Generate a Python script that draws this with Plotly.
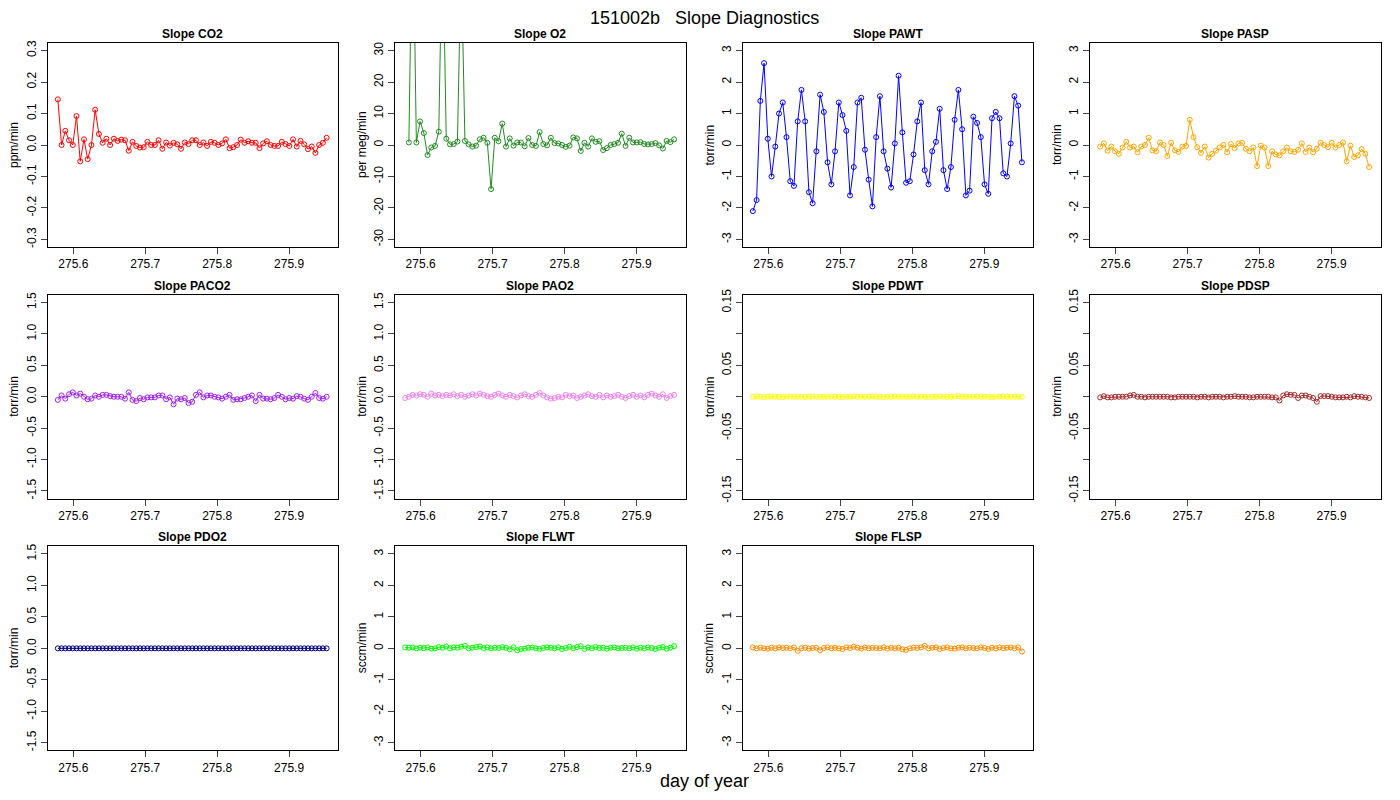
import plotly.graph_objects as go

t0 = 275.5785
dt = 0.00519

co2 = [0.145, 0.0, 0.045, 0.015, 0.0, 0.092, -0.052, 0.018, -0.045, 0.0,
       0.112, 0.035, 0.007, 0.02, 0.0, 0.02, 0.013, 0.017, 0.015, -0.018,
       0.01, -0.003, -0.008, -0.007, 0.01, 0.0, 0.0, 0.015, -0.012, 0.008,
       -0.002, 0.007, 0.002, -0.012, 0.008, 0.003, 0.015, 0.015, 0.0, 0.008,
       -0.003, 0.01, 0.007, 0.0, 0.005, 0.018, -0.01, -0.007, 0.0, 0.017,
       0.007, 0.012, 0.007, 0.007, -0.01, 0.005, 0.012, 0.0, -0.003, -0.003,
       0.01, 0.003, -0.003, 0.018, -0.005, 0.013, 0.002, -0.013, -0.005, -0.025,
       0.0, 0.007, 0.023]
o2 = [None, 0.8, 80, 0.8, 7.5, 3.8, -3.2, -0.8, -0.3, 4.2,
      70, 2.0, 0.2, 0.3, 1.1, 60, 1.3, 0.2, -0.5, -0.2,
      1.8, 2.3, 0.7, -14, 2.3, 1.2, 6.8, -0.5, 2.1, -0.2,
      0.8, 0.8, -0.4, 2.2, 0.0, -0.3, 4.1, 0.3, -0.1, 2.3,
      0.6, 0.5, 0.0, -0.6, -0.2, 2.4, 2.1, -1.9, 0.7, -0.5,
      2.1, 1.0, 1.2, -1.6, -1.0, 0.0, 0.3, 0.7, 3.6, -0.3,
      2.3, 0.8, 0.8, 0.9, 0.3, 0.2, 0.3, 0.6, -0.1, -1.1,
      1.3, 0.9, 1.8]
pawt = [-2.1, -1.75, 1.4, 2.6, 0.2, -1.0, -0.05, 1.0, 1.35, 0.25,
        -1.15, -1.3, 0.75, 1.75, 0.75, -1.5, -1.85, -0.2, 1.6, 1.05,
        -0.55, -1.25, -0.2, 1.35, 0.95, 0.45, -1.6, -0.7, 1.35, 1.5,
        -0.15, -1.1, -1.95, 0.25, 1.55, -0.2, -0.75, -1.35, 0.05, 2.2,
        0.4, -1.2, -1.15, -0.3, 0.75, 1.35, -0.8, -1.25, -0.2, 0.1,
        1.15, -0.8, -1.4, -0.7, 0.8, 1.75, 0.5, -1.6, -1.45, 0.9,
        0.7, 0.25, -1.25, -1.55, 0.85, 1.05, 0.85, -0.9, -1.0, 0.05,
        1.55, 1.25, -0.55]
pasp = [-0.05, 0.05, -0.18, -0.05, -0.2, -0.28, -0.08, 0.1, -0.08, -0.05,
        -0.23, -0.05, 0.0, 0.23, -0.17, -0.2, 0.08, 0.0, -0.35, 0.07,
        -0.17, -0.22, -0.05, -0.03, 0.8, 0.25, -0.07, -0.25, -0.05, -0.4,
        -0.28, -0.18, -0.08, 0.0, -0.23, 0.03, -0.1, 0.05, 0.07, -0.12,
        -0.2, -0.08, -0.67, -0.02, -0.08, -0.67, -0.2, -0.3, -0.33, -0.2,
        -0.08, -0.2, -0.22, -0.15, 0.05, -0.22, -0.08, -0.23, -0.12, 0.07,
        0.0, -0.07, 0.07, -0.08, 0.0, 0.08, -0.52, -0.02, -0.38, -0.33,
        -0.13, -0.28, -0.7]
paco2 = [-0.05, 0.02, -0.03, 0.04, 0.07, 0.02, 0.05, 0.0, -0.04, -0.03,
         0.02, 0.0, 0.03, 0.03, 0.01, 0.0, 0.0, 0.0, -0.03, 0.07,
         -0.05, -0.07, -0.02, -0.04, -0.01, -0.01, -0.01, 0.02, 0.02, -0.04,
         -0.01, -0.12, -0.03, -0.04, -0.02, -0.1, -0.08, 0.03, 0.07, -0.01,
         0.02, 0.02, 0.0, -0.01, -0.03, 0.0, 0.03, -0.05, -0.04, -0.04,
         -0.02, 0.0, 0.02, -0.07, 0.03, -0.03, -0.03, -0.04, -0.02, 0.03,
         0.0, -0.04, -0.02, -0.03, 0.01, 0.0, -0.03, -0.05, 0.0, 0.06,
         -0.02, -0.03, 0.0]
pao2 = [-0.02, 0.0, 0.03, 0.02, 0.04, 0.03, 0.0, 0.05, 0.02, 0.03,
        0.01, 0.03, 0.02, 0.04, 0.01, 0.03, 0.0, 0.02, 0.04, 0.02,
        0.05, 0.03, 0.01, 0.0, 0.03, 0.05, 0.02, 0.0, 0.03, 0.01,
        -0.01, 0.02, 0.04, 0.01, 0.0, 0.03, 0.06, 0.02, -0.01, -0.03,
        -0.02, 0.0, -0.01, 0.03, 0.01, 0.02, -0.02, 0.0, 0.02, 0.04,
        0.01, 0.0, 0.03, -0.01, 0.02, 0.0, 0.01, 0.03, 0.0, -0.02,
        0.01, 0.03, 0.0, 0.02, -0.01, 0.03, 0.05, 0.02, 0.0, 0.04,
        -0.02, 0.01, 0.03]
pdwt = [0.0, 0.0005, 0.0, -0.0005, 0.0, 0.0005, 0.0, 0.0, -0.0005, 0.0,
        0.0005, 0.0, 0.0, 0.0, -0.0005, 0.0, 0.0005, 0.0, 0.0, 0.0,
        0.0, 0.0005, 0.0, 0.0, -0.0005, 0.0, 0.0, 0.0005, 0.0, 0.0,
        0.0, 0.0, 0.0005, 0.0, 0.0, -0.0005, 0.0, 0.0, 0.0005, 0.0,
        0.0, 0.0, 0.0, 0.0005, 0.0, 0.0, 0.0, -0.0005, 0.0, 0.0,
        0.0005, 0.0, 0.0, 0.0, 0.0, 0.001, 0.0, 0.0, 0.0, 0.0,
        0.0005, 0.0, 0.0, 0.0, -0.0005, 0.0, 0.0, 0.0005, 0.0, 0.0,
        0.0, 0.0, 0.0]
pdsp = [-0.001, 0.001, -0.001, -0.001, 0.0, 0.0, 0.0, 0.0, 0.002, 0.003,
        0.0, 0.0, -0.001, 0.0, 0.0, 0.0, 0.0, 0.0, 0.0, -0.001,
        -0.001, 0.0, 0.0, 0.0, 0.0, 0.0, -0.001, 0.0, 0.0, -0.001,
        0.0, 0.0, 0.0, -0.001, 0.0, 0.0, 0.001, 0.0, 0.0, 0.0,
        -0.001, -0.001, 0.0, 0.0, 0.0, 0.0, -0.001, -0.001, -0.006, 0.002,
        0.004, 0.003, 0.003, -0.002, 0.002, 0.002, 0.0, -0.002, -0.008, 0.001,
        0.001, 0.001, 0.0, -0.001, -0.001, -0.001, 0.0, -0.001, 0.001, 0.0,
        0.0, -0.001, -0.002]
pdo2 = [0.0] * 73
flwt = [0.03, 0.02, 0.03, 0.0, 0.02, 0.01, 0.03, -0.01, 0.0, 0.04,
        0.02, 0.06, 0.0, 0.03, 0.02, 0.05, 0.08, 0.0, 0.02, 0.04,
        0.06, 0.01, 0.03, 0.0, 0.02, 0.01, 0.04, 0.02, -0.03, 0.03,
        -0.06, -0.02, -0.01, 0.02, 0.03, 0.0, -0.02, 0.01, 0.03, 0.02,
        0.0, 0.03, -0.02, 0.01, 0.05, 0.0, 0.04, 0.07, -0.02, 0.03,
        0.0, 0.04, 0.01, 0.02, -0.01, 0.02, 0.03, 0.0, 0.01, 0.02,
        0.0, 0.03, -0.01, 0.02, 0.0, 0.03, 0.01, -0.02, 0.02, 0.04,
        -0.01, 0.02, 0.07]
flsp = [0.03, 0.0, 0.02, 0.0, -0.01, 0.02, 0.0, 0.03, 0.01, 0.02,
        0.0, 0.03, -0.08, 0.0, 0.02, -0.01, 0.01, 0.02, -0.06, 0.01,
        0.03, 0.0, 0.02, 0.0, -0.02, 0.03, 0.01, 0.05, 0.02, -0.01,
        0.03, 0.0, 0.02, 0.01, 0.0, 0.03, -0.01, 0.02, 0.0, 0.02,
        -0.03, -0.05, 0.0, 0.02, 0.01, 0.03, 0.08, 0.0, 0.02, 0.03,
        -0.02, 0.01, 0.03, 0.0, -0.01, 0.02, 0.03, 0.0, 0.02, 0.01,
        0.0, 0.03, 0.01, -0.02, 0.02, 0.0, 0.03, 0.01, 0.02, 0.03,
        0.0, 0.03, -0.1]

panels = [
    ("Slope CO2", co2, "#FF0000", "ppm/min", 0.324, 0.1, None),
    ("Slope O2", o2, "#228B22", "per meg/min", 32.4, 10, None),
    ("Slope PAWT", pawt, "#0000FF", "torr/min", 3.24, 1, None),
    ("Slope PASP", pasp, "#FFA500", "torr/min", 3.24, 1, None),
    ("Slope PACO2", paco2, "#A020F0", "torr/min", 1.62, 0.5, None),
    ("Slope PAO2", pao2, "#EE82EE", "torr/min", 1.62, 0.5, None),
    ("Slope PDWT", pdwt, "#FFFF00", "torr/min", 0.162, 0.05, "odd"),
    ("Slope PDSP", pdsp, "#A52A2A", "torr/min", 0.162, 0.05, "odd"),
    ("Slope PDO2", pdo2, "#000080", "torr/min", 1.62, 0.5, None),
    ("Slope FLWT", flwt, "#00FF00", "sccm/min", 3.24, 1, None),
    ("Slope FLSP", flsp, "#FF8C00", "sccm/min", 3.24, 1, None),
]

OFF = 8
W, H = 1400 - 2 * OFF, 800 - 2 * OFF
colx = [(47.7, 338), (395, 685.5), (742.7, 1033.3), (1090, 1380.5)]
rowy = [(43, 247), (295, 498.5), (546.4, 750.3)]
ylabx = [14, 362, 709.5, 1057]
xticks = [275.6, 275.7, 275.8, 275.9]

def px(x):
    return (x - OFF) / W

def py(y):
    return 1 - (y - OFF) / H

fig = go.Figure()
layout = dict(width=W, height=H, margin=dict(l=0, r=0, t=0, b=0, autoexpand=False),
              plot_bgcolor="white", paper_bgcolor="white", showlegend=False,
              font=dict(family="Liberation Sans, Arial", size=12, color="black"))
ann = []
for i, (title, vals, col, ylab, ymax, step, mode) in enumerate(panels):
    r, c = divmod(i, 4)
    n = i + 1
    xa = "xaxis" if n == 1 else f"xaxis{n}"
    ya = "yaxis" if n == 1 else f"yaxis{n}"
    xs = [t0 + dt * k for k in range(len(vals))]
    fig.add_trace(go.Scatter(x=xs, y=vals, mode="lines+markers",
                             line=dict(color=col, width=1),
                             marker=dict(symbol="circle-open", size=5, color=col, line=dict(width=1)),
                             xaxis=f"x{n}" if n > 1 else "x", yaxis=f"y{n}" if n > 1 else "y",
                             connectgaps=False))
    x0, x1 = colx[c]
    y0, y1 = rowy[r]
    k = round(ymax / step)
    tv = [round(step * j, 6) for j in range(-k, k + 1)]
    if mode == "odd":
        tv = [-0.15, -0.1, -0.05, 0, 0.05, 0.1, 0.15]
        tt = ["-0.15", "", "-0.05", "", "0.05", "", "0.15"]
    else:
        tt = [f"{v:g}" if step >= 1 else f"{v:.1f}" for v in tv]
    layout[xa] = dict(domain=[px(x0), px(x1)], range=[275.5644, 275.968],
                      anchor=f"y{n}" if n > 1 else "y", tickvals=xticks, automargin=False,
                      ticktext=[f"{v:.1f}" for v in xticks], ticks="outside", ticklen=6,
                      showline=True, mirror=True, linecolor="black", linewidth=1,
                      showgrid=False, zeroline=False, tickfont=dict(size=12))
    layout[ya] = dict(domain=[py(y1), py(y0)], range=[-ymax, ymax],
                      anchor=f"x{n}" if n > 1 else "x", tickvals=tv, ticktext=tt, automargin=False,
                      tickangle=-90, ticks="outside", ticklen=6,
                      showline=True, mirror=True, linecolor="black", linewidth=1,
                      showgrid=False, zeroline=False, tickfont=dict(size=12))
    ann.append(dict(text=f"<b>{title}</b>", x=px((x0 + x1) / 2), y=py(y0 - 9),
                    xref="paper", yref="paper", xanchor="center", yanchor="middle",
                    showarrow=False, font=dict(size=12)))
    ann.append(dict(text=ylab, x=px(ylabx[c]), y=py((y0 + y1) / 2), textangle=-90,
                    xref="paper", yref="paper", xanchor="center", yanchor="middle",
                    showarrow=False, font=dict(size=12)))

ann.append(dict(text="151002b   Slope Diagnostics", x=px(704), y=py(18), xref="paper",
                yref="paper", xanchor="center", yanchor="middle", showarrow=False, font=dict(size=18)))
ann.append(dict(text="day of year", x=px(704), y=py(781), xref="paper", xanchor="center",
                yanchor="middle", yref="paper", showarrow=False, font=dict(size=18)))
layout["annotations"] = ann
fig.update_layout(**layout)
fig.write_html("out.html")
